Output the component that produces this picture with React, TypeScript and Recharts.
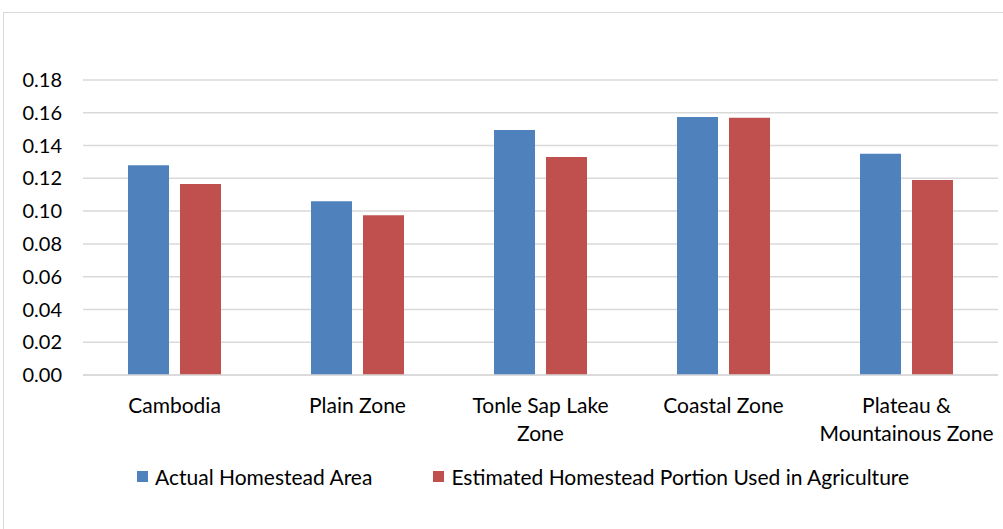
import React from "react";
import { BarChart, Bar, XAxis, YAxis, CartesianGrid } from "recharts";

const categories = ["Cambodia", "Plain Zone", "Tonle Sap Lake\nZone", "Coastal Zone", "Plateau &\nMountainous Zone"];
const actualArea = [0.128, 0.106, 0.1495, 0.1575, 0.135];
const agriPortion = [0.1165, 0.0975, 0.133, 0.157, 0.119];
const yTicks = [0, 0.02, 0.04, 0.06, 0.08, 0.1, 0.12, 0.14, 0.16, 0.18];

const data = categories.map((name, i) => ({
    name,
    actual: actualArea[i],
    agri: agriPortion[i],
}));

const series = [
    { key: "actual", name: "Actual Homestead Area", color: "#4f81bd" },
    { key: "agri", name: "Estimated Homestead Portion Used in Agriculture", color: "#c0504d" },
];

const FONT = "Lato, 'Open Sans', sans-serif";

function CategoryTick(props: any) {
    const { x, y, payload } = props;
    const lines = String(payload.value).split("\n");
    return (
        <text x={x} y={y} textAnchor="middle" fill="#000" fontSize={21} fontFamily={FONT}>
            {lines.map((line, i) => (
                <tspan key={i} x={x} dy={i === 0 ? 36 : 28}>
                    {line}
                </tspan>
            ))}
        </text>
    );
}

export default function App() {
    return (
        <div style={{ position: "fixed", left: 0, top: 0, width: 1003, height: 529, background: "#fff", overflow: "hidden" }}>
            <div style={{ position: "absolute", left: 3, top: 12, width: 1020, height: 540, border: "1px solid #d9d9d9" }} />
            <BarChart
                width={1003}
                height={529}
                data={data}
                margin={{ top: 80, right: 5, bottom: 0, left: 0 }}
                barCategoryGap={45}
                barGap={11}
                style={{ position: "absolute", left: 0, top: 0 }}
            >
                <CartesianGrid vertical={false} stroke="#d9d9d9" strokeWidth={1.5} />
                <XAxis
                    dataKey="name"
                    height={154}
                    axisLine={{ stroke: "#d9d9d9", strokeWidth: 1.5 }}
                    tickLine={false}
                    tickSize={0}
                    interval={0}
                    tick={<CategoryTick />}
                />
                <YAxis
                    width={83}
                    domain={[0, 0.18]}
                    ticks={yTicks}
                    axisLine={false}
                    tickLine={false}
                    tickSize={0}
                    tickMargin={21}
                    tickFormatter={(v: number) => v.toFixed(2)}
                    tick={{ fill: "#000", fontSize: 20, fontFamily: FONT }}
                />
                {series.map((s) => (
                    <Bar key={s.key} dataKey={s.key} name={s.name} fill={s.color} isAnimationActive={false} />
                ))}
            </BarChart>
            <div
                style={{
                    position: "absolute",
                    top: 464,
                    left: 137,
                    display: "flex",
                    alignItems: "center",
                    fontFamily: FONT,
                    fontSize: 21,
                    color: "#000",
                    whiteSpace: "nowrap",
                }}
            >
                {series.map((s) => (
                    <div key={s.key} style={{ display: "flex", alignItems: "center", marginRight: 61 }}>
                        <span style={{ width: 11, height: 11, background: s.color, display: "inline-block", marginRight: 7 }} />
                        <span>{s.name}</span>
                    </div>
                ))}
            </div>
        </div>
    );
}
